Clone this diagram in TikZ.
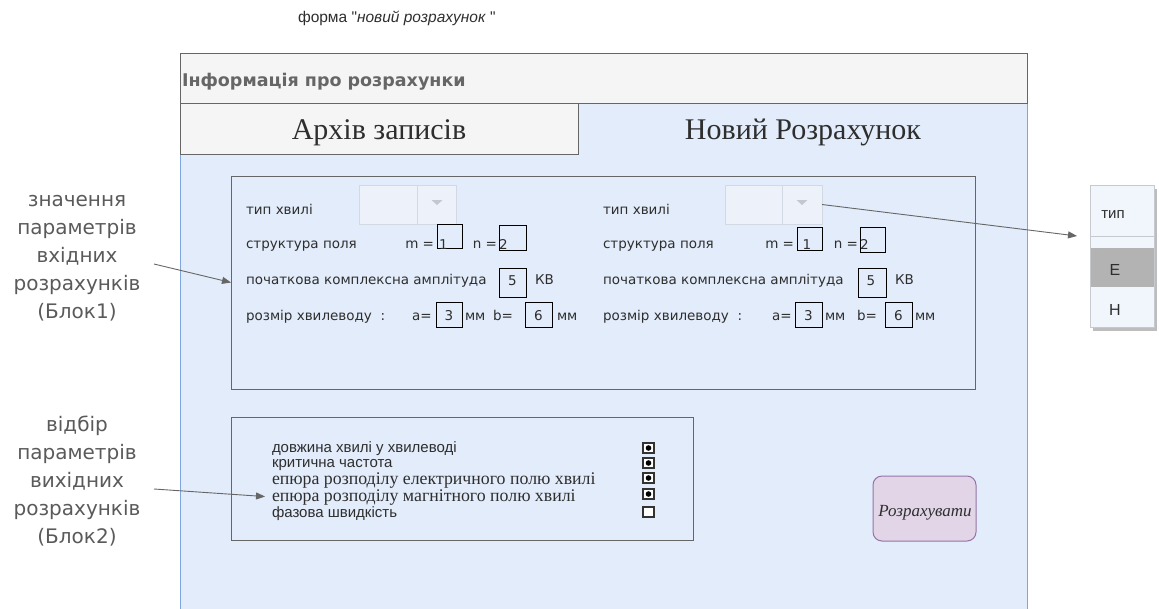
\documentclass[tikz,border=0pt]{standalone}
\usepackage{fontspec}
\setmainfont{Liberation Serif}
\newfontfamily\arialf{Liberation Sans}
\newfontfamily\comicf{DejaVu Sans}
\usetikzlibrary{arrows.meta}
\definecolor{panelfill}{HTML}{E2ECFA}
\definecolor{panelline}{HTML}{7EA6E0}
\definecolor{greyfill}{HTML}{F5F5F5}
\definecolor{greyline}{HTML}{666666}
\definecolor{labelgrey}{HTML}{5A5A5A}
\definecolor{ddfill}{HTML}{EDF2FA}
\definecolor{ddline}{HTML}{D3D9E2}
\definecolor{ddtri}{HTML}{C4C8CE}
\definecolor{btnfill}{HTML}{E1D5E7}
\definecolor{btnline}{HTML}{9673A6}
\definecolor{listfill}{HTML}{F1F5FC}
\definecolor{listline}{HTML}{C6C9CE}
\definecolor{listsel}{HTML}{B3B3B3}
\definecolor{shadowgrey}{HTML}{BDBDBD}
\definecolor{ink}{HTML}{2E2E2E}
\begin{document}
\begin{tikzpicture}[x=1pt,y=-1pt,
  every node/.style={inner sep=0pt, outer sep=0pt},
  frame/.style={draw=greyline, line width=0.9pt, anchor=north west},
  field/.style={draw=black, line width=0.9pt, anchor=north west},
  dropbox/.style={draw=ddline, fill=ddfill, line width=0.8pt, anchor=north west,
                  minimum width=97pt, minimum height=39pt},
  ctext/.style={font=\comicf\fontsize{13.5}{16}\selectfont, text=ink, anchor=base west},
  cdigit/.style={font=\comicf\fontsize{13.5}{16}\selectfont, text=ink, anchor=base},
  side/.style={font=\comicf\fontsize{20}{28}\selectfont, text=labelgrey, align=center, anchor=base},
  atext/.style={font=\arialf\fontsize{15}{16}\selectfont, text=ink, anchor=base west},
  ttext/.style={font=\fontsize{17.8}{18}\selectfont, text=ink, anchor=base west},
  chk/.style={draw=black!80, line width=1.3pt, fill=white, minimum width=11pt, minimum height=10pt},
  ptr/.style={draw=greyline, line width=0.9pt, -{Triangle[length=9pt,width=7pt]}},
]
\useasboundingbox (0,0) rectangle (1159,608);

% caption above the form
\node[font=\arialf\fontsize{15.5}{17}\selectfont, text=ink, anchor=base west] (caption)
  at (298,22.7) {форма "\textit{новий розрахунок }"};

% form body, header bar and tabs
\node[draw=panelline, fill=panelfill, line width=1pt, anchor=north west,
      minimum width=847pt, minimum height=520pt] (panel) at (180,103) {};
\node[frame, fill=greyfill, minimum width=847pt, minimum height=50pt] (header) at (180,53) {};
\node[font=\comicf\bfseries\fontsize{17.5}{19}\selectfont, text=greyline, anchor=base west]
  (headertext) at (182,86) {Інформація про розрахунки};
\node[frame, fill=greyfill, minimum width=398pt, minimum height=51pt] (tabarchive) at (180,103) {};
\node[font=\fontsize{30}{32}\selectfont, text=ink, anchor=base] (tabarchivetext)
  at (379,139) {Архів записів};
\node[font=\fontsize{30}{32}\selectfont, text=ink, anchor=base] (tabnewtext)
  at (803,139) {Новий Розрахунок};

% block 1: input parameters
\node[frame, minimum width=744pt, minimum height=213pt] (blk1) at (231,176) {};

% left column
\node[ctext] (l1) at (246,214) {тип хвилі};
\node[dropbox] (dd1) at (359,185) {};
\draw[ddline, line width=0.8pt] (417,185) -- (417,224);
\fill[ddtri] (431.5,200) -- (442.5,200) -- (437,205) -- cycle;
\node[ctext] (l2) at (246,248) {структура поля};
\node[ctext, anchor=base east] (lm) at (434,248) {m =};
\node[field, minimum width=25pt, minimum height=24pt] (fm) at (437,224) {};
\node[ctext] (vm) at (439,249) {1};
\node[ctext, anchor=base east] (ln) at (497,248) {n =};
\node[field, minimum width=27pt, minimum height=25pt] (fn) at (499,225) {};
\node[ctext] (vn) at (499,249) {2};
\node[ctext] (l3) at (246,284) {початкова комплексна амплітуда};
\node[field, minimum width=27pt, minimum height=29pt] (fa) at (499,268) {};
\node[cdigit] (va) at (512.5,285) {5};
\node[ctext] (ua) at (535,284) {КВ};
\node[ctext] (l4) at (246,320) {розмір хвилеводу\ \ :};
\node[ctext] (la) at (412,320) {a=};
\node[field, minimum width=26pt, minimum height=25pt] (fa2) at (436,302) {};
\node[cdigit] (vaa) at (449,320) {3};
\node[ctext] (ua2) at (465,320) {мм};
\node[ctext] (lb) at (493,320) {b=};
\node[field, minimum width=27pt, minimum height=25pt] (fb) at (525,302) {};
\node[cdigit] (vb) at (538.5,320) {6};
\node[ctext] (ub) at (557,320) {мм};

% right column
\node[ctext] (r1) at (603,214) {тип хвилі};
\node[dropbox] (dd2) at (725,185) {};
\draw[ddline, line width=0.8pt] (782,185) -- (782,224);
\fill[ddtri] (796.5,200) -- (807.5,200) -- (802,205) -- cycle;
\node[ctext] (r2) at (603,248) {структура поля};
\node[ctext, anchor=base east] (rm) at (794,248) {m =};
\node[field, minimum width=25pt, minimum height=23pt] (gm) at (797,227) {};
\node[cdigit] (wm) at (807,249) {1};
\node[ctext, anchor=base east] (rn) at (858,248) {n =};
\node[field, minimum width=25pt, minimum height=25pt] (gn) at (860,227) {};
\node[ctext] (wn) at (860,249) {2};
\node[ctext] (r3) at (603,284) {початкова комплексна амплітуда};
\node[field, minimum width=28pt, minimum height=29pt] (ga) at (858,268) {};
\node[cdigit] (wa) at (871,285) {5};
\node[ctext] (xa) at (895,284) {КВ};
\node[ctext] (r4) at (603,320) {розмір хвилеводу\ \ :};
\node[ctext] (ra) at (772,320) {a=};
\node[field, minimum width=27pt, minimum height=25pt] (ga2) at (795,302) {};
\node[cdigit] (waa) at (808.5,320) {3};
\node[ctext] (xa2) at (825,320) {мм};
\node[ctext] (rb) at (857,320) {b=};
\node[field, minimum width=27pt, minimum height=25pt] (gb) at (885,302) {};
\node[cdigit] (wb) at (898.5,320) {6};
\node[ctext] (xb) at (915,320) {мм};

% block 2: output parameters
\node[frame, minimum width=462pt, minimum height=123pt] (blk2) at (231,417) {};
\node[atext] (o1) at (272,452.5) {довжина хвилі у хвилеводі};
\node[atext] (o2) at (272,467) {критична частота};
\node[ttext] (o3) at (272,484) {епюра розподілу електричного полю хвилі};
\node[ttext] (o4) at (272,501) {епюра розподілу магнітного полю хвилі};
\node[atext] (o5) at (272,517) {фазова швидкість};
\node[chk] (c1) at (648.5,448) {};
\node[chk] (c2) at (648.5,463) {};
\node[chk] (c3) at (648.5,478) {};
\node[chk] (c4) at (648.5,494) {};
\node[chk] (c5) at (648.5,512) {};
\foreach \c in {c1,c2,c3,c4} \fill[black] (\c) circle (2.8pt);

% action button
\node[draw=btnline, fill=btnfill, line width=1pt, rounded corners=9pt, anchor=north west,
      minimum width=103pt, minimum height=65pt] (calc) at (873,476) {};
\node[font=\fontsize{17}{18}\selectfont\itshape, text=ink, anchor=base] (calctext)
  at (925,516.5) {Розрахувати};

% drop-down list of wave types
\fill[shadowgrey] (1093,189) rectangle (1157,331);
\node[draw=listline, fill=listfill, line width=0.8pt, anchor=north west,
      minimum width=64pt, minimum height=142pt] (wavelist) at (1090,185) {};
\draw[listline, line width=0.8pt] (1090,236.5) -- (1154,236.5);
\fill[listsel] (1090.5,248) rectangle (1153.5,287);
\node[font=\arialf\fontsize{15}{17}\selectfont, text=ink, anchor=base] (itemtype) at (1113,218) {тип};
\node[font=\arialf\fontsize{16}{18}\selectfont, text=ink, anchor=base] (itemE) at (1115,275) {E};
\node[font=\arialf\fontsize{16}{18}\selectfont, text=ink, anchor=base] (itemH) at (1115,315) {H};
\coordinate (listin) at (1077,236);
\draw[ptr] (dd2.east) -- (listin);

% side annotations (base anchor sits on the last line)
\node[side] (note1) at (77,318) {значення\\параметрів\\вхідних\\розрахунків\\(Блок1)};
\node[side] (note2) at (77,543) {відбір\\параметрів\\вихідних\\розрахунків\\(Блок2)};
\coordinate (note1out) at (154,264);
\coordinate (note2out) at (154,489);
\draw[ptr] (note1out) -- (blk1.west);
\draw[ptr, shorten >=7pt] (note2out) -- (o4.west);
\end{tikzpicture}
\end{document}
